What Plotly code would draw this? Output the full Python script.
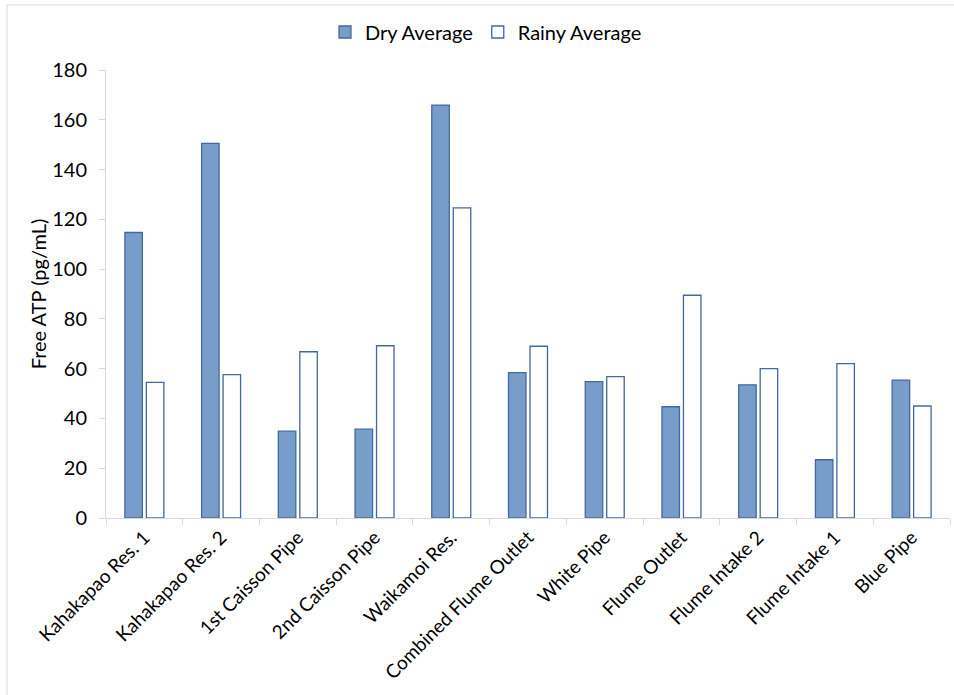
import plotly.graph_objects as go

categories = ["Kahakapao Res. 1", "Kahakapao Res. 2", "1st Caisson Pipe", "2nd Caisson Pipe",
              "Waikamoi Res.", "Combined Flume Outlet", "White Pipe", "Flume Outlet",
              "Flume Intake 2", "Flume Intake 1", "Blue Pipe"]
dry_average = [114.7, 150.5, 34.9, 35.7, 165.9, 58.4, 54.8, 44.7, 53.5, 23.4, 55.4]
rainy_average = [54.5, 57.6, 66.8, 69.2, 124.6, 69.0, 56.8, 89.5, 60.0, 62.0, 45.0]
y_ticks = [0, 20, 40, 60, 80, 100, 120, 140, 160, 180]

FONT = "Lato, 'Open Sans', sans-serif"

fig = go.Figure()
fig.add_trace(go.Bar(
    x=categories, y=dry_average, name="Dry Average",
    marker=dict(color="#789dca", line=dict(color="#44699d", width=1.3)),
))
fig.add_trace(go.Bar(
    x=categories, y=rainy_average, name="Rainy Average",
    marker=dict(color="#ffffff", line=dict(color="#4169a0", width=1.3)),
))

L, R, T, B = 106, 4, 70, 177
W, H = 954, 695
pw, ph = W - L - R, H - T - B

fig.update_layout(
    width=W, height=H,
    margin=dict(l=L, r=R, t=T, b=B, pad=0),
    paper_bgcolor="white", plot_bgcolor="white",
    barmode="group", bargap=0.44, bargroupgap=0.186,
    font=dict(family=FONT, size=20, color="#000000"),
    showlegend=True,
    legend=dict(orientation="h", x=(486 - L) / pw, xanchor="center", y=(H - B - 32) / ph,
                yref="paper", yanchor="middle", font=dict(size=20),
                bgcolor="rgba(0,0,0,0)"),
    xaxis=dict(
        showgrid=False, showline=True, linecolor="#d9d9d9", linewidth=1,
        ticks="outside", tickson="boundaries", ticklen=6, tickcolor="#d9d9d9",
        tickangle=-45, tickfont=dict(size=19), zeroline=False,
    ),
    yaxis=dict(
        range=[0, 180], tickvals=y_ticks, showgrid=False, showline=True,
        linecolor="#d9d9d9", linewidth=1, ticks="outside", ticklen=6, tickcolor="#d9d9d9",
        tickfont=dict(size=20), zeroline=False, ticklabelstandoff=8,
        title=dict(text="Free ATP (pg/mL)", font=dict(size=20), standoff=0),
    ),
    shapes=[dict(
        type="rect", xref="paper", yref="paper", layer="below",
        x0=(7 - L) / pw, x1=(W + 10 - L) / pw,
        y0=(H - B - (H + 10)) / ph, y1=(H - B - 5) / ph,
        line=dict(color="#d9d9d9", width=1), fillcolor="rgba(0,0,0,0)",
    )],
)

fig.write_html("out.html")
